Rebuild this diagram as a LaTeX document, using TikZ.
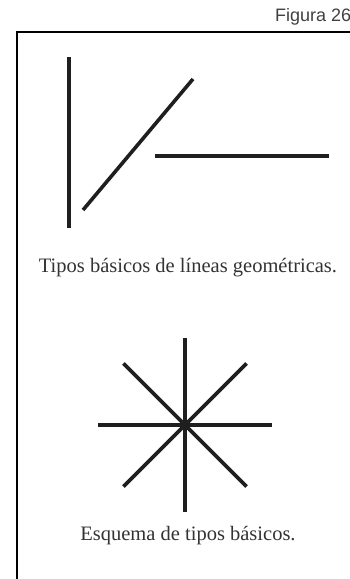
\documentclass[tikz,border=0pt]{standalone}
\usepackage{fontspec}
\setmainfont{Liberation Serif}
\newfontfamily\labelfont{Liberation Sans}
\usetikzlibrary{positioning}

\begin{document}
\begin{tikzpicture}[
    x=1pt, y=-1pt,
    stroke/.style={line width=3.6pt, color=black!88},
    frame/.style={line width=1.4pt, color=black},
    caption/.style={font=\fontsize{20.5}{23}\selectfont, text=black!80, inner sep=0pt, anchor=base},
    tag/.style={font=\fontsize{18}{20}\selectfont\labelfont, text=black!75, inner sep=0pt, anchor=base west}
]
    \useasboundingbox (0,0) rectangle (350,579);

    \node[tag] (fig) at (275,21.5) {Figura 26};
    \draw[frame] (17,620) -- (17,32) -- (370,32);

    % tipos basicos de lineas
    \coordinate (vtop) at (69,57);
    \coordinate (vbot) at (69,228);
    \coordinate (dlow) at (83,210);
    \coordinate (dhigh) at (193,79);
    \coordinate (hleft) at (155,156);
    \coordinate (hright) at (329,156);
    \draw[stroke] (vtop) -- (vbot);
    \draw[stroke] (dlow) -- (dhigh);
    \draw[stroke] (hleft) -- (hright);
    \node[caption] (tipos) at (188,272) {Tipos básicos de líneas geométricas.};

    % esquema
    \coordinate (hub) at (185,425);
    \foreach \a in {0,45,...,315}
        \draw[stroke] (hub) -- ++(\a:87);
    \node[caption] (esquema) at (188,540) {Esquema de tipos básicos.};

\end{tikzpicture}
\end{document}
